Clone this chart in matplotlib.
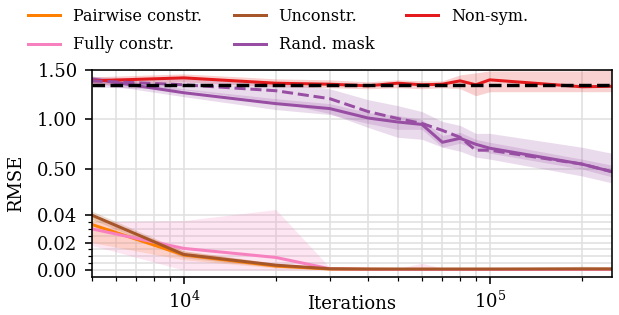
import matplotlib
matplotlib.use('Agg')
import matplotlib.pyplot as plt
from matplotlib.ticker import FixedLocator, FormatStrFormatter, LogLocator
import numpy as np

plt.rcParams['font.family'] = 'DejaVu Serif'
plt.rcParams['mathtext.fontset'] = 'dejavuserif'

# iterations
iters = [5000, 10000, 20000, 30000, 40000, 50000, 60000, 70000, 80000, 90000, 100000, 200000, 250000]

# small-error methods
pair_mean = [0.0332, 0.0110, 0.0030, 0.0008, 0.0006, 0.0005, 0.0005, 0.0005, 0.0005, 0.0005, 0.0005, 0.0005, 0.0005]
pair_lo = [0.0200, 0.0075, 0.0015, 0.0003, 0.0002, 0.0002, 0.0002, 0.0002, 0.0002, 0.0002, 0.0002, 0.0002, 0.0002]
pair_hi = [0.0400, 0.0140, 0.0045, 0.0015, 0.0010, 0.0010, 0.0010, 0.0010, 0.0010, 0.0010, 0.0010, 0.0012, 0.0012]

unc_mean = [0.0400, 0.0114, 0.0036, 0.0010, 0.0008, 0.0008, 0.0008, 0.0008, 0.0008, 0.0008, 0.0008, 0.0009, 0.0009]
unc_lo = [0.0370, 0.0090, 0.0020, 0.0005, 0.0004, 0.0004, 0.0004, 0.0004, 0.0004, 0.0004, 0.0004, 0.0003, 0.0003]
unc_hi = [0.0430, 0.0140, 0.0050, 0.0015, 0.0012, 0.0012, 0.0012, 0.0012, 0.0012, 0.0012, 0.0013, 0.0028, 0.0025]

full_mean = [0.0300, 0.0158, 0.0092, 0.0010, 0.0006, 0.0005, 0.0005, 0.0005, 0.0005, 0.0005, 0.0005, 0.0005, 0.0005]
full_lo = [0.0180, 0.0000, 0.0000, 0.0002, 0.0002, 0.0002, 0.0002, 0.0002, 0.0002, 0.0002, 0.0002, 0.0002, 0.0002]
full_hi = [0.0350, 0.0360, 0.0440, 0.0020, 0.0012, 0.0012, 0.0050, 0.0015, 0.0010, 0.0010, 0.0010, 0.0010, 0.0010]

# large-error methods
nonsym_mean = [1.39, 1.42, 1.366, 1.356, 1.34, 1.366, 1.35, 1.356, 1.39, 1.35, 1.40, 1.33, 1.335]
nonsym_lo = [1.35, 1.38, 1.33, 1.32, 1.31, 1.32, 1.31, 1.32, 1.31, 1.24, 1.28, 1.28, 1.28]
nonsym_hi = [1.43, 1.46, 1.41, 1.40, 1.38, 1.40, 1.39, 1.39, 1.45, 1.47, 1.49, 1.49, 1.50]

mask_mean = [1.41, 1.27, 1.16, 1.11, 1.015, 0.975, 0.95, 0.77, 0.81, 0.75, 0.71, 0.55, 0.47]
mask_lo = [1.37, 1.23, 1.10, 1.05, 0.96, 0.90, 0.90, 0.72, 0.76, 0.70, 0.66, 0.50, 0.41]
mask_hi = [1.44, 1.31, 1.21, 1.16, 1.07, 1.04, 1.00, 0.84, 0.87, 0.80, 0.77, 0.60, 0.54]

mask2_mean = [1.39, 1.35, 1.29, 1.21, 1.08, 1.01, 0.96, 0.89, 0.82, 0.69, 0.69, 0.55, 0.47]
mask2_lo = [1.33, 1.30, 1.18, 1.06, 0.92, 0.82, 0.80, 0.72, 0.68, 0.62, 0.60, 0.42, 0.34]
mask2_hi = [1.43, 1.41, 1.38, 1.31, 1.20, 1.14, 1.08, 0.98, 0.94, 0.86, 0.86, 0.72, 0.66]

baseline = 1.345

# broken linear y scale
Y_KN = np.array([-0.05, 0.045, 0.5, 1.5, 2.0])
F_KN = np.array([-68.75, 61.9, 101.0, 200.0, 249.5])


def fwd(y):
    return np.interp(y, Y_KN, F_KN)


def inv(f):
    return np.interp(f, F_KN, Y_KN)


fig, ax = plt.subplots(figsize=(619 / 144, 315 / 144), dpi=144)
fig.subplots_adjust(left=0.148, right=0.988, top=0.778, bottom=0.1206)

ax.set_xscale('log')
ax.set_yscale('function', functions=(fwd, inv))

series = [
    ('Pairwise constr.', '#ff7f00', pair_mean, pair_lo, pair_hi),
    ('Fully constr.', '#f781bf', full_mean, full_lo, full_hi),
    ('Unconstr.', '#a65628', unc_mean, unc_lo, unc_hi),
    ('Rand. mask', '#984ea3', mask_mean, mask_lo, mask_hi),
    ('Non-sym.', '#e41a1c', nonsym_mean, nonsym_lo, nonsym_hi),
]
for name, c, m, lo, hi in series:
    ax.fill_between(iters, lo, hi, color=c, alpha=0.2, lw=0)
    ax.plot(iters, m, color=c, lw=1.5, label=name)

ax.fill_between(iters, mask2_lo, mask2_hi, color='#984ea3', alpha=0.2, lw=0)
ax.plot(iters, mask2_mean, color='#984ea3', lw=1.5, ls='--')

ax.axhline(baseline, color='black', lw=1.7, ls='--')

ax.set_xlim(5000, 250000)
ax.set_ylim(-0.005, 1.5)

ax.yaxis.set_major_locator(FixedLocator([0.0, 0.02, 0.04, 0.5, 1.0, 1.5]))
ax.yaxis.set_minor_locator(FixedLocator([0.005, 0.01, 0.015, 0.025, 0.03, 0.035]))
ax.yaxis.set_major_formatter(FormatStrFormatter('%.2f'))
ax.xaxis.set_minor_locator(LogLocator(base=10, subs=np.arange(2, 10)))

ax.grid(True, which='both', color='0.88', lw=0.8)
ax.set_axisbelow(True)

ax.tick_params(labelsize=9)
ax.set_xlabel('Iterations', fontsize=9)
ax.set_ylabel('RMSE', fontsize=9)
ax.xaxis.set_label_coords(0.5, -0.085)
ax.yaxis.set_label_coords(-0.128, 0.454)

ax.legend(loc='upper left', bbox_to_anchor=(0.035, 0.995), bbox_transform=fig.transFigure,
          borderaxespad=0, frameon=False, ncol=3, fontsize=8, labelspacing=0.7)

plt.savefig('out.png', dpi=144)
plt.close()
